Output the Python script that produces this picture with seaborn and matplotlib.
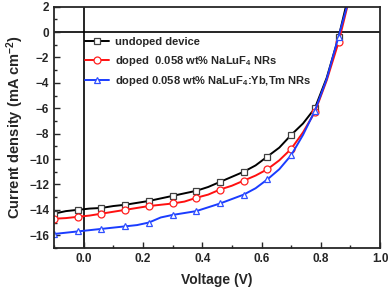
import matplotlib
matplotlib.use("Agg")
import matplotlib.pyplot as plt
import seaborn as sns
import numpy as np

sns.set_style("ticks")
plt.rcParams['font.family'] = ['Liberation Sans', 'DejaVu Sans']
plt.rcParams['font.weight'] = 'bold'
plt.rcParams['mathtext.fontset'] = 'custom'
plt.rcParams['mathtext.rm'] = 'Liberation Sans:bold'
plt.rcParams['mathtext.bf'] = 'Liberation Sans:bold'
plt.rcParams['mathtext.it'] = 'Liberation Sans:bold'
plt.rcParams['mathtext.default'] = 'bf'

voltage = [-0.10, -0.06, -0.02, 0.02, 0.06, 0.10, 0.14, 0.18, 0.22, 0.26, 0.30, 0.34,
           0.38, 0.42, 0.46, 0.50, 0.54, 0.58, 0.62, 0.66, 0.70, 0.74, 0.78, 0.82, 0.86, 0.90]
undoped = [-14.3, -14.1, -14.0, -13.9, -13.85, -13.7, -13.6, -13.45, -13.3, -13.1, -12.9, -12.7,
           -12.5, -12.2, -11.8, -11.4, -11.0, -10.5, -9.8, -9.1, -8.1, -7.2, -6.0, -3.6, -0.4, 3.5]
doped_nr = [-14.7, -14.65, -14.55, -14.45, -14.3, -14.15, -14.0, -13.85, -13.7, -13.6, -13.5, -13.35,
            -13.05, -12.8, -12.4, -12.1, -11.7, -11.3, -10.8, -10.1, -9.2, -7.9, -6.3, -3.8, -0.8, 3.0]
doped_ybtm = [-15.9, -15.8, -15.7, -15.6, -15.5, -15.4, -15.3, -15.2, -15.0, -14.6, -14.4, -14.25,
              -14.1, -13.8, -13.5, -13.15, -12.8, -12.3, -11.6, -10.8, -9.7, -8.1, -6.2, -3.7, -0.35, 3.0]

labels = ['undoped device',
          r'doped  0.058 wt% NaLuF$_4$ NRs',
          r'doped 0.058 wt% NaLuF$_4$:Yb,Tm NRs']
colors = ['black', '#ff1010', '#1a3cff']
edge_colors = ['#404040', '#ff2020', '#3050ff']
markers = ['s', 'o', '^']
series = [undoped, doped_nr, doped_ybtm]

fig = plt.figure(figsize=(3.89, 2.91), dpi=100)
ax = fig.add_axes([0.139, 0.148, 0.838, 0.829])

for ys, lab, c, ec, m in zip(series, labels, colors, edge_colors, markers):
    sns.lineplot(x=voltage, y=ys, ax=ax, color=c, lw=1.4, label=lab,
                 marker=m, markevery=2, markersize=5,
                 markerfacecolor='white', markeredgecolor=ec, markeredgewidth=0.9)

ax.axhline(0, color='black', lw=1.2, zorder=0)
ax.axvline(0, color='black', lw=1.2, zorder=0)

ax.set_xlim(-0.1, 1.0)
ax.set_ylim(-17, 2)
ax.set_xticks([0.0, 0.2, 0.4, 0.6, 0.8, 1.0])
ax.set_xticks(np.arange(-0.1, 1.0001, 0.1), minor=True)
ax.set_yticks(np.arange(-16, 2.1, 2))
ax.set_yticks(np.arange(-17, 2.1, 1), minor=True)
ax.xaxis.set_major_formatter(matplotlib.ticker.FormatStrFormatter('%.1f'))
ax.tick_params(which='both', direction='in', labelsize=8.5, width=1.0)
ax.tick_params(which='major', length=4)
ax.tick_params(which='minor', length=2.5)
for lab in ax.get_xticklabels() + ax.get_yticklabels():
    lab.set_fontweight('bold')
for sp in ax.spines.values():
    sp.set_linewidth(1.3)
    sp.set_visible(True)

ax.set_xlabel('Voltage (V)', fontsize=10, fontweight='bold', labelpad=6)
ax.set_ylabel(r'Current density (mA cm$^{-2}$)', fontsize=10.5, fontweight='bold', labelpad=2)

leg = ax.legend(loc='upper left', bbox_to_anchor=(0.095, 0.875), frameon=False,
                fontsize=8, handlelength=2.2, handletextpad=0.5, labelspacing=0.6,
                borderaxespad=0, borderpad=0)
for t in leg.get_texts():
    t.set_fontweight('bold')

fig.savefig('out.png', dpi=100)
